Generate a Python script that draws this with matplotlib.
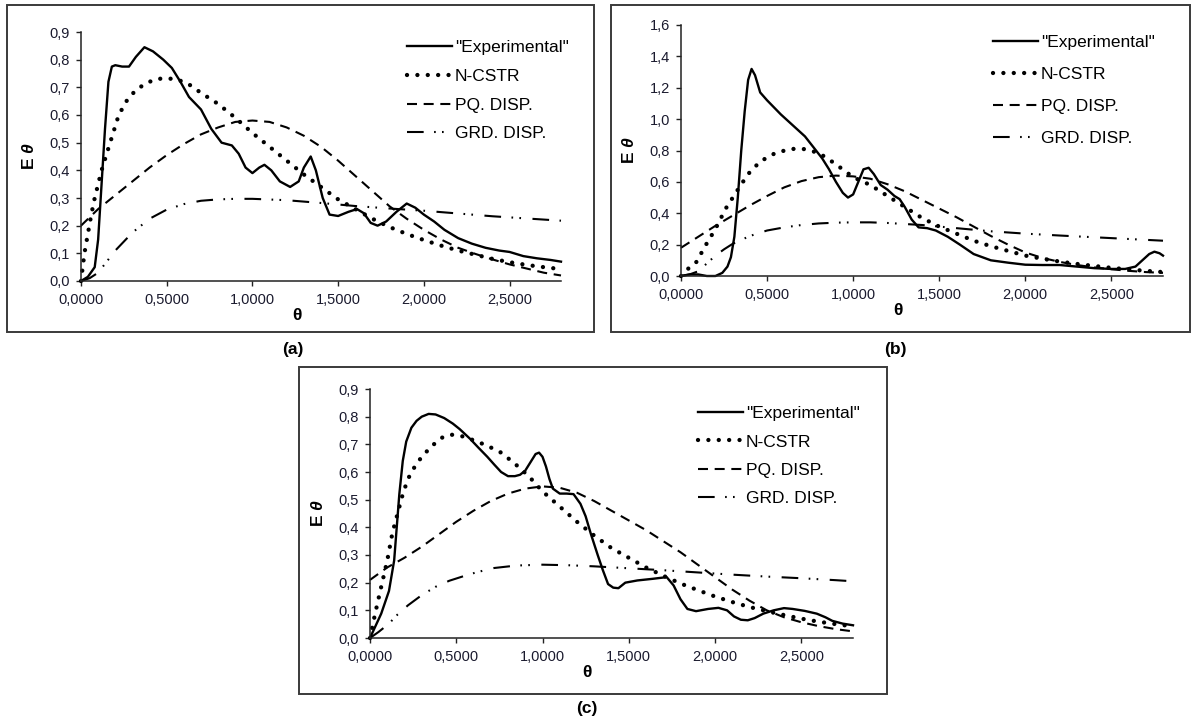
import matplotlib
matplotlib.use('Agg')
import matplotlib.pyplot as plt
from matplotlib.patches import Rectangle
from matplotlib.ticker import FuncFormatter, MultipleLocator

plt.rcParams['font.family'] = ['Liberation Sans', 'DejaVu Sans']
plt.rcParams['mathtext.fontset'] = 'custom'
plt.rcParams['mathtext.bf'] = 'Liberation Sans:bold:italic'

labels = ['"Experimental"', 'N-CSTR', 'PQ. DISP.', 'GRD. DISP.']

# ---- panel (a) ----
a_exp_x = [0, 0.04, 0.08, 0.1, 0.12, 0.14, 0.16, 0.18, 0.2, 0.24, 0.28, 0.32, 0.37, 0.42, 0.48,
           0.53, 0.58, 0.63, 0.70, 0.76, 0.82, 0.88, 0.92, 0.96, 1.0, 1.04, 1.07, 1.11, 1.16, 1.22,
           1.27, 1.3, 1.34, 1.37, 1.41, 1.45, 1.5, 1.56, 1.61, 1.65, 1.69, 1.73, 1.78, 1.84, 1.9,
           1.95, 2.0, 2.06, 2.12, 2.2, 2.28, 2.36, 2.44, 2.5, 2.58, 2.66, 2.74, 2.8]
a_exp_y = [0, 0.015, 0.05, 0.15, 0.35, 0.55, 0.72, 0.775, 0.78, 0.775, 0.775, 0.81, 0.845, 0.83, 0.80,
           0.77, 0.72, 0.665, 0.62, 0.55, 0.50, 0.49, 0.46, 0.41, 0.39, 0.41, 0.42, 0.40, 0.36, 0.34,
           0.36, 0.41, 0.45, 0.40, 0.30, 0.24, 0.235, 0.25, 0.26, 0.245, 0.21, 0.20, 0.215, 0.25, 0.28,
           0.265, 0.24, 0.215, 0.185, 0.155, 0.135, 0.12, 0.11, 0.105, 0.09, 0.082, 0.076, 0.07]
a_cstr_x = [0, 0.02, 0.04, 0.06, 0.08, 0.1, 0.12, 0.15, 0.18, 0.22, 0.27, 0.32, 0.38, 0.44, 0.5,
            0.56, 0.62, 0.7, 0.8, 0.9, 1.0, 1.1, 1.2, 1.3, 1.4, 1.5, 1.6, 1.7, 1.8, 1.9, 2.0, 2.1,
            2.2, 2.3, 2.4, 2.5, 2.6, 2.7, 2.8]
a_cstr_y = [0, 0.1, 0.17, 0.24, 0.3, 0.35, 0.4, 0.46, 0.52, 0.6, 0.655, 0.69, 0.715, 0.73, 0.733,
            0.728, 0.715, 0.68, 0.64, 0.59, 0.535, 0.485, 0.435, 0.385, 0.34, 0.295, 0.26, 0.225,
            0.195, 0.17, 0.148, 0.128, 0.11, 0.095, 0.08, 0.068, 0.058, 0.05, 0.043]
a_pq_x = [0, 0.1, 0.2, 0.3, 0.4, 0.5, 0.6, 0.7, 0.8, 0.9, 1.0, 1.1, 1.2, 1.3, 1.4, 1.5, 1.6, 1.7,
          1.8, 1.9, 2.0, 2.1, 2.2, 2.3, 2.4, 2.5, 2.6, 2.7, 2.8]
a_pq_y = [0.2, 0.26, 0.31, 0.36, 0.41, 0.455, 0.495, 0.53, 0.555, 0.575, 0.58, 0.575, 0.555, 0.525,
          0.485, 0.435, 0.38, 0.325, 0.27, 0.225, 0.185, 0.15, 0.12, 0.098, 0.078, 0.06, 0.045,
          0.03, 0.02]
a_grd_x = [0, 0.05, 0.1, 0.15, 0.2, 0.3, 0.4, 0.5, 0.6, 0.7, 0.8, 0.9, 1.0, 1.2, 1.4, 1.6, 1.8,
           2.0, 2.2, 2.4, 2.6, 2.8]
a_grd_y = [0, 0.01, 0.03, 0.07, 0.11, 0.175, 0.225, 0.258, 0.278, 0.29, 0.295, 0.297, 0.297,
           0.292, 0.282, 0.271, 0.262, 0.254, 0.244, 0.234, 0.226, 0.218]

# ---- panel (b) ----
b_exp_x = [0, 0.05, 0.1, 0.15, 0.2, 0.24, 0.27, 0.29, 0.31, 0.33, 0.35, 0.37, 0.39, 0.41, 0.43,
           0.46, 0.5, 0.58, 0.66, 0.72, 0.77, 0.82, 0.86, 0.9, 0.94, 0.97, 1.0, 1.03, 1.06, 1.09,
           1.12, 1.16, 1.2, 1.24, 1.27, 1.3, 1.34, 1.38, 1.43, 1.48, 1.55, 1.62, 1.7, 1.8, 1.9,
           2.0, 2.1, 2.2, 2.3, 2.4, 2.5, 2.58, 2.64, 2.68, 2.72, 2.75, 2.78, 2.8]
b_exp_y = [0, 0.01, 0.01, 0, 0, 0.02, 0.06, 0.12, 0.25, 0.5, 0.8, 1.05, 1.25, 1.32, 1.28,
           1.17, 1.12, 1.03, 0.95, 0.89, 0.82, 0.75, 0.68, 0.6, 0.53, 0.5, 0.52, 0.6, 0.68, 0.69,
           0.65, 0.58, 0.55, 0.51, 0.49, 0.44, 0.36, 0.31, 0.305, 0.29, 0.25, 0.2, 0.14, 0.1, 0.085,
           0.072, 0.07, 0.07, 0.06, 0.05, 0.045, 0.045, 0.06, 0.1, 0.14, 0.155, 0.145, 0.13]
b_cstr_x = [0, 0.04, 0.09, 0.14, 0.2, 0.26, 0.33, 0.39, 0.46, 0.55, 0.64, 0.71, 0.8, 0.89, 1.0,
            1.1, 1.2, 1.3, 1.4, 1.5, 1.6, 1.7, 1.8, 1.9, 2.0, 2.1, 2.2, 2.3, 2.4, 2.5, 2.6, 2.7, 2.8]
b_cstr_y = [0, 0.045, 0.09, 0.19, 0.3, 0.43, 0.55, 0.65, 0.73, 0.785, 0.81, 0.81, 0.785, 0.72,
            0.63, 0.58, 0.51, 0.44, 0.37, 0.315, 0.27, 0.225, 0.19, 0.16, 0.13, 0.11, 0.092,
            0.077, 0.064, 0.052, 0.042, 0.033, 0.025]
b_pq_x = [0, 0.1, 0.2, 0.3, 0.4, 0.5, 0.6, 0.7, 0.8, 0.9, 1.0, 1.1, 1.2, 1.3, 1.4, 1.5, 1.6, 1.7,
          1.8, 1.9, 2.0, 2.1, 2.2, 2.3, 2.4, 2.5, 2.6, 2.7, 2.8]
b_pq_y = [0.18, 0.25, 0.32, 0.385, 0.45, 0.51, 0.565, 0.605, 0.63, 0.64, 0.635, 0.62, 0.585, 0.54,
          0.485, 0.43, 0.375, 0.315, 0.255, 0.2, 0.15, 0.115, 0.09, 0.07, 0.055, 0.043, 0.033,
          0.025, 0.02]
b_grd_x = [0, 0.05, 0.1, 0.15, 0.2, 0.25, 0.3, 0.4, 0.5, 0.6, 0.7, 0.8, 0.9, 1.0, 1.1, 1.2, 1.4,
           1.6, 1.8, 2.0, 2.2, 2.4, 2.6, 2.8]
b_grd_y = [0, 0.01, 0.03, 0.08, 0.13, 0.17, 0.205, 0.255, 0.29, 0.31, 0.325, 0.335, 0.34, 0.342,
           0.342, 0.338, 0.325, 0.305, 0.285, 0.27, 0.258, 0.247, 0.236, 0.225]

# ---- panel (c) ----
c_exp_x = [0, 0.065, 0.11, 0.14, 0.17, 0.19, 0.21, 0.24, 0.27, 0.3, 0.34, 0.38, 0.43, 0.48, 0.52,
           0.58, 0.63, 0.68, 0.72, 0.76, 0.8, 0.84, 0.87, 0.9, 0.93, 0.96, 0.98, 1.0, 1.02, 1.04,
           1.06, 1.1, 1.14, 1.18, 1.22, 1.25, 1.28, 1.32, 1.35, 1.38, 1.41, 1.44, 1.48, 1.55, 1.64,
           1.72, 1.76, 1.8, 1.84, 1.89, 1.96, 2.02, 2.07, 2.11, 2.15, 2.19, 2.23, 2.28, 2.34, 2.4,
           2.45, 2.52, 2.59, 2.64, 2.68, 2.74, 2.8]
c_exp_y = [0, 0.088, 0.17, 0.28, 0.52, 0.64, 0.71, 0.76, 0.785, 0.8, 0.81, 0.808, 0.795, 0.775,
           0.755, 0.72, 0.687, 0.655, 0.627, 0.6, 0.585, 0.585, 0.59, 0.605, 0.635, 0.665, 0.67,
           0.655, 0.62, 0.575, 0.54, 0.522, 0.522, 0.52, 0.485, 0.44, 0.377, 0.3, 0.245, 0.195,
           0.182, 0.18, 0.2, 0.208, 0.214, 0.22, 0.19, 0.14, 0.105, 0.097, 0.105, 0.109, 0.1,
           0.078, 0.066, 0.064, 0.072, 0.088, 0.1, 0.108, 0.105, 0.098, 0.088, 0.075, 0.062,
           0.052, 0.046]
c_cstr_x = [0, 0.02, 0.043, 0.065, 0.1, 0.13, 0.16, 0.19, 0.22, 0.26, 0.3, 0.36, 0.42, 0.47, 0.53,
            0.6, 0.68, 0.76, 0.84, 0.92, 1.0, 1.1, 1.2, 1.3, 1.4, 1.5, 1.6, 1.7, 1.8, 1.9, 2.0,
            2.1, 2.2, 2.3, 2.4, 2.5, 2.6, 2.7, 2.8]
c_cstr_y = [0, 0.06, 0.125, 0.185, 0.28, 0.38, 0.45, 0.52, 0.575, 0.62, 0.655, 0.695, 0.725,
            0.735, 0.73, 0.715, 0.695, 0.67, 0.63, 0.585, 0.53, 0.475, 0.42, 0.37, 0.325, 0.29,
            0.255, 0.225, 0.197, 0.173, 0.15, 0.13, 0.112, 0.097, 0.083, 0.07, 0.059, 0.05, 0.042]
c_pq_x = [0, 0.1, 0.2, 0.3, 0.4, 0.5, 0.6, 0.7, 0.8, 0.9, 1.0, 1.1, 1.2, 1.3, 1.4, 1.5, 1.6, 1.7,
          1.8, 1.9, 2.0, 2.1, 2.2, 2.3, 2.4, 2.5, 2.6, 2.7, 2.8]
c_pq_y = [0.21, 0.255, 0.29, 0.33, 0.375, 0.42, 0.46, 0.495, 0.522, 0.54, 0.548, 0.543, 0.525,
          0.495, 0.46, 0.425, 0.39, 0.35, 0.31, 0.265, 0.22, 0.175, 0.135, 0.1, 0.075, 0.057,
          0.043, 0.032, 0.024]
c_grd_x = [0, 0.05, 0.11, 0.16, 0.22, 0.3, 0.38, 0.46, 0.54, 0.62, 0.72, 0.85, 1.0, 1.15, 1.3,
           1.5, 1.7, 1.9, 2.1, 2.3, 2.5, 2.7, 2.8]
c_grd_y = [0, 0.022, 0.052, 0.085, 0.118, 0.155, 0.185, 0.207, 0.223, 0.238, 0.253, 0.262, 0.265,
           0.263, 0.259, 0.252, 0.245, 0.237, 0.229, 0.222, 0.216, 0.209, 0.205]

W, H = 1197, 724
fig = plt.figure(figsize=(W / 100, H / 100), dpi=100)


def fig_rect(x0, y0, x1, y1):
    # pixel box (top-left origin) -> figure fraction
    return [x0 / W, 1 - y1 / H, (x1 - x0) / W, (y1 - y0) / H]


styles = [
    dict(color='black', lw=1.7, ls='-'),
    dict(color='black', lw=3.1, ls=(0, (0.01, 2.4)), dash_capstyle='round'),
    dict(color='black', lw=1.5, ls=(0, (4.8, 3.2))),
    dict(color='black', lw=1.5, ls=(0, (8, 5, 0.8, 3, 0.8, 5.5))),
]

panels = [
    # axes box px, frame box px, ymax, ystep, legend anchor, labelspacing, tag, tag pos
    dict(ax=(81, 32, 561, 281), frame=(7, 5, 594, 332), ymax=0.9, ystep=0.1,
         leg=(0.679, 0.967), lsp=0.78, tag='(a)', tpos=(293, 350),
         data=[(a_exp_x, a_exp_y), (a_cstr_x, a_cstr_y), (a_pq_x, a_pq_y), (a_grd_x, a_grd_y)]),
    dict(ax=(681, 25, 1163, 276), frame=(611, 5, 1190, 332), ymax=1.6, ystep=0.2,
         leg=(0.647, 0.959), lsp=0.97, tag='(b)', tpos=(895, 349),
         data=[(b_exp_x, b_exp_y), (b_cstr_x, b_cstr_y), (b_pq_x, b_pq_y), (b_grd_x, b_grd_y)]),
    dict(ax=(370, 389, 853, 638), frame=(299, 367, 887, 694), ymax=0.9, ystep=0.1,
         leg=(0.679, 0.931), lsp=0.75, tag='(c)', tpos=(587, 709),
         data=[(c_exp_x, c_exp_y), (c_cstr_x, c_cstr_y), (c_pq_x, c_pq_y), (c_grd_x, c_grd_y)]),
]

for p in panels:
    fig.add_artist(Rectangle(fig_rect(*p['frame'])[:2], *fig_rect(*p['frame'])[2:],
                             transform=fig.transFigure, fill=False, edgecolor='#3a3a3a', lw=1.4))
    ax = fig.add_axes(fig_rect(*p['ax']))
    for (xs, ys), lab, st in zip(p['data'], labels, styles):
        ax.plot(xs, ys, label=lab, clip_on=False, **st)

    ax.set_xlim(0, 2.8)
    ax.set_ylim(0, p['ymax'])
    ax.xaxis.set_major_locator(MultipleLocator(0.5))
    ax.yaxis.set_major_locator(MultipleLocator(p['ystep']))
    ax.xaxis.set_major_formatter(FuncFormatter(lambda v, pos: f'{v:.4f}'.replace('.', ',')))
    ax.yaxis.set_major_formatter(FuncFormatter(lambda v, pos: f'{v:.1f}'.replace('.', ',')))
    for s in ['top', 'right']:
        ax.spines[s].set_visible(False)
    for s in ['left', 'bottom']:
        ax.spines[s].set_color('#222222')
        ax.spines[s].set_linewidth(1.1)
    ax.tick_params(axis='both', direction='out', length=3.5, width=1.0, color='#222222',
                   labelsize=10.5, labelcolor='#1a1a2e')
    ax.tick_params(axis='y', pad=4.5)
    ax.tick_params(axis='x', pad=5)

    axw = p['ax'][2] - p['ax'][0]
    axh = p['ax'][3] - p['ax'][1]
    ax.set_xlabel('θ', fontsize=12.5, fontweight='bold')
    ax.xaxis.set_label_coords(0.45, -27 / axh)
    ax.set_ylabel(r'E $\mathbf{\theta}$', fontsize=12.5, fontweight='bold')
    ax.yaxis.set_label_coords(-44 / axw, 0.5)

    ax.legend(loc='upper left', bbox_to_anchor=p['leg'], frameon=False, fontsize=12.5,
              borderpad=0, borderaxespad=0, handlelength=2.6, handletextpad=0.17,
              labelspacing=p['lsp'])

    fig.text(p['tpos'][0] / W, 1 - p['tpos'][1] / H, p['tag'], ha='center', va='center',
             fontsize=12.5, fontweight='bold')

fig.savefig('out.png', dpi=100)
